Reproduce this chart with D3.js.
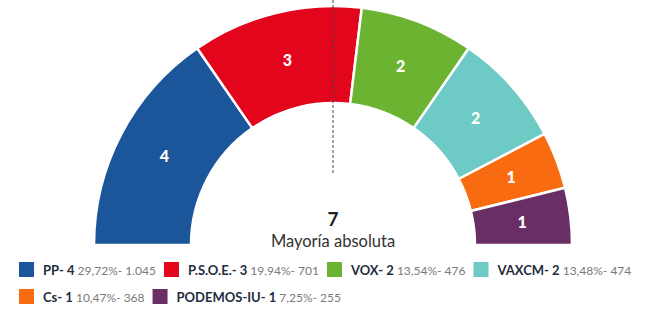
<!DOCTYPE html>
<html>
<head>
<meta charset="utf-8">
<script src="https://cdn.jsdelivr.net/npm/d3@7"></script>
<style>
  body { margin: 0; background: #fff; font-family: Lato, "Open Sans", sans-serif; }
</style>
</head>
<body>
<div id="chart"></div>
<script>
var parties = ["PP", "P.S.O.E.", "VOX", "VAXCM", "Cs", "PODEMOS-IU"];
var seats = [4, 3, 2, 2, 1, 1];
var pcts = ["29,72%", "19,94%", "13,54%", "13,48%", "10,47%", "7,25%"];
var votes = ["1.045", "701", "476", "474", "368", "255"];
var colors = ["#1b569b", "#e2051b", "#6cb332", "#6ecac4", "#f96b10", "#6a2e66"];
var majority = 7;

var width = 647, height = 324,
    cx = 333, cy = 245,
    innerRadius = 142,
    outerRadius = 239;

var svg = d3.select("#chart")
    .append("svg")
    .attr("width", width)
    .attr("height", height);

var data = parties.map(function (p, i) {
    return {party: p, seats: seats[i], pct: pcts[i], votes: votes[i], color: colors[i]};
});

var pie = d3.pie()
    .sort(null)
    .value(function (d) { return d.seats; })
    .startAngle(-Math.PI / 2)
    .endAngle(Math.PI / 2);

var arc = d3.arc()
    .innerRadius(innerRadius)
    .outerRadius(outerRadius);

var g = svg.append("g")
    .attr("transform", "translate(" + cx + "," + cy + ")");

g.selectAll("path")
    .data(pie(data))
    .enter()
    .append("path")
    .attr("d", arc)
    .attr("fill", function (d) { return d.data.color; })
    .attr("stroke", "#fff")
    .attr("stroke-width", 2.5);

// seat numbers
g.selectAll("text.seat")
    .data(pie(data))
    .enter()
    .append("text")
    .attr("class", "seat")
    .attr("transform", function (d) { return "translate(" + arc.centroid(d) + ")"; })
    .attr("text-anchor", "middle")
    .attr("dy", "0.35em")
    .attr("fill", "#fff")
    .style("font-weight", "900")
    .style("font-size", "16px")
    .text(function (d) { return d.data.seats; });

// majority line
svg.append("line")
    .attr("x1", cx).attr("x2", cx)
    .attr("y1", 0).attr("y2", 175)
    .attr("stroke", "#444")
    .attr("stroke-width", 1)
    .attr("stroke-dasharray", "3,2");

svg.append("text")
    .attr("x", cx).attr("y", 226)
    .attr("text-anchor", "middle")
    .attr("fill", "#222")
    .style("font-weight", "bold")
    .style("font-size", "19px")
    .text(majority);

svg.append("text")
    .attr("x", cx).attr("y", 247)
    .attr("text-anchor", "middle")
    .attr("fill", "#333")
    .style("font-size", "16.5px")
    .text("Mayoría absoluta");

// legend, flowing left to right
var lx = 19, ly = 262, maxX = 640;
data.forEach(function (d) {
    var item = svg.append("g");
    item.append("rect")
        .attr("width", 15).attr("height", 15)
        .attr("fill", d.color);
    var t = item.append("text")
        .attr("x", 24).attr("y", 13)
        .style("font-size", "13px");
    t.append("tspan")
        .attr("fill", "#1f2d3d")
        .style("font-weight", "bold")
        .text(d.party + "- " + d.seats);
    t.append("tspan")
        .attr("fill", "#7a7a7a")
        .style("font-size", "12px")
        .text(" " + d.pct + "- " + d.votes);
    var w = 24 + t.node().getComputedTextLength();
    if (lx + w > maxX) { lx = 19; ly += 27; }
    item.attr("transform", "translate(" + lx + "," + ly + ")");
    lx += w + 8;
});
</script>
</body>
</html>
